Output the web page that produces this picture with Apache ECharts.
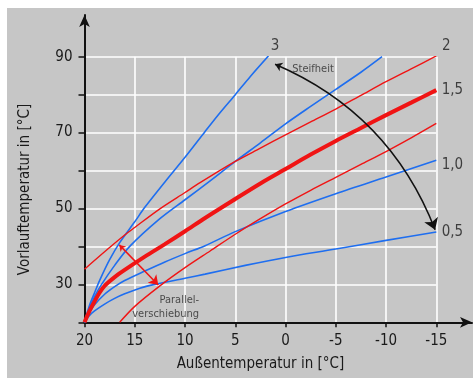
<!DOCTYPE html>
<html>
<head>
<meta charset="utf-8">
<script src="https://cdn.jsdelivr.net/npm/echarts@6/dist/echarts.min.js"></script>
<style>
  html, body { margin: 0; padding: 0; background: #fff; }
  #chart { position: absolute; left: 7px; top: 8px; width: 466px; height: 370px; }
</style>
</head>
<body>
<div id="chart"></div>
<script>
// Heizkurven: [Außentemperatur, Vorlauftemperatur]
const blue05 = [[20, 20], [19.5, 21.8], [19, 23], [18, 24.8], [17, 26.3], [16, 27.5], [14.5, 29], [13, 30], [10, 31.6], [8, 32.7], [4, 35], [0, 37.1], [-5, 39.3], [-10, 41.6], [-15, 43.8]]
const blue10 = [[20, 20], [19.5, 22.6], [19, 24.6], [18, 27.4], [17, 29.4], [16, 31], [14, 33.5], [12, 35.9], [10, 38.1], [8, 40.2], [5, 43.9], [0, 49.2], [-5, 53.9], [-10, 58.3], [-15, 62.7]]
const blue20 = [[20, 20], [19.5, 23.8], [19, 26.8], [18.3, 30], [17, 35], [15.5, 40], [12.5, 47.3], [10, 52.3], [7.5, 57.3], [5, 62.4], [2.5, 67.3], [0, 72.3], [-2.5, 76.9], [-5, 81.4], [-7.5, 85.9], [-9.6, 90]]
const blue30 = [[20, 20], [19.5, 24.5], [19, 27.8], [18.5, 31], [17.5, 36.5], [16.5, 41], [15, 46.5], [14, 50.3], [12, 57], [10, 63.5], [8, 70.3], [6.5, 75.3], [5, 80], [3.5, 84.8], [1.7, 90.2]]
const red15 = [[20, 20], [19.5, 23], [19, 25.5], [18.5, 27.8], [18, 29.6], [17, 31.9], [16, 33.8], [14, 37.3], [12, 40.6], [10, 44], [8, 47.5], [5, 52.5], [2.5, 56.6], [0, 60.4], [-2.5, 64.2], [-5, 67.8], [-7.5, 71.2], [-10, 74.6], [-12.5, 77.9], [-15, 81.2]]
const red15Up = [[20, 34], [18, 38.6], [16, 43], [15, 45], [12.5, 49.9], [10, 54.2], [8.5, 56.8], [5, 62.4], [2.5, 65.9], [0, 69.4], [-2.5, 72.8], [-5, 76.2], [-7.5, 79.8], [-10, 83.4], [-12.5, 86.8], [-15, 90.2]]
const red15Down = [[16.5, 20], [15, 24.2], [12.5, 29.6], [10, 34.4], [7.5, 38.8], [5, 43.2], [2.5, 47.3], [0, 51.2], [-2.5, 54.8], [-5, 58.2], [-7.5, 61.6], [-10, 65], [-12.5, 68.6], [-15, 72.4]]

// Beschriftung der Kurven (Steilheit)
const slopeNames = ['3', '2', '1,5', '1,0', '0,5']
const slopePos = [[1.05, 92.7], [-16, 92.7], [-16.6, 81.3], [-16.6, 61.5], [-16.6, 43.8]]

// Pfeile
const steilArrow = [[1.04, 88], [-14.88, 44.4]]
const shiftArrow = [[16.54, 40.4], [12.66, 29.85]]

const FONT = "'Liberation Sans Narrow', 'DejaVu Sans Condensed', 'Arial Narrow', sans-serif"
const BLUE = '#1e6ef0'
const RED = '#f01414'
const INK = '#1a1a1a'

var myChart = echarts.init(document.getElementById('chart'))

function curve(data, color, width) {
  return {
    type: 'line',
    xAxisIndex: 0,
    yAxisIndex: 0,
    data: data,
    smooth: 0.3,
    showSymbol: false,
    silent: true,
    lineStyle: { color: color, width: width },
  }
}

var option = {
  backgroundColor: '#c6c6c6',
  animation: false,
  textStyle: { fontFamily: FONT },
  grid: [
    { left: 77.5, right: 36.7, top: 48.7, bottom: 55.7 },
    // nur für die Achsenpfeile
    { left: 77.5, right: 1, top: 7, bottom: 55.7 },
  ],
  xAxis: [
    {
      type: 'value',
      gridIndex: 0,
      inverse: true,
      min: -15,
      max: 20,
      interval: 5,
      name: 'Außentemperatur in [°C]',
      nameLocation: 'middle',
      nameGap: 34,
      nameTextStyle: { color: INK, fontSize: 15, fontFamily: FONT },
      axisLine: { show: false, onZero: false },
      axisTick: { show: true, length: 5, lineStyle: { color: '#111', width: 1.5 } },
      axisLabel: { color: INK, fontSize: 15, margin: 11, fontFamily: FONT },
      splitLine: { show: true, lineStyle: { color: '#ffffff', width: 1.6 } },
    },
    {
      type: 'value',
      gridIndex: 1,
      inverse: true,
      min: -18.6,
      max: 20,
      axisLine: { show: true, onZero: false, symbol: ['none', 'arrow'], symbolSize: [8, 12], lineStyle: { color: '#111', width: 2 } },
      axisTick: { show: false },
      axisLabel: { show: false },
      splitLine: { show: false },
    },
  ],
  yAxis: [
    {
      type: 'value',
      gridIndex: 0,
      min: 20,
      max: 90,
      interval: 10,
      name: 'Vorlauftemperatur in [°C]',
      nameLocation: 'middle',
      nameGap: 52,
      nameTextStyle: { color: INK, fontSize: 15, fontFamily: FONT },
      axisLine: { show: false, onZero: false },
      axisTick: { show: true, length: 6, lineStyle: { color: '#111', width: 1.5 } },
      axisLabel: {
        color: INK,
        fontSize: 15,
        margin: 12,
        fontFamily: FONT,
        formatter: function (v) {
          return v > 20 && (v - 10) % 20 === 0 ? String(v) : ''
        },
      },
      splitLine: { show: true, lineStyle: { color: '#ffffff', width: 1.6 } },
    },
    {
      type: 'value',
      gridIndex: 1,
      min: 20,
      max: 100.6,
      axisLine: { show: true, onZero: false, symbol: ['none', 'arrow'], symbolSize: [8, 12], lineStyle: { color: '#111', width: 2 } },
      axisTick: { show: false },
      axisLabel: { show: false },
      splitLine: { show: false },
    },
  ],
  series: [
    curve(blue05, BLUE, 1.6),
    curve(blue10, BLUE, 1.6),
    curve(blue20, BLUE, 1.6),
    curve(blue30, BLUE, 1.6),
    curve(red15Up, RED, 1.4),
    curve(red15Down, RED, 1.4),
    curve(red15, RED, 4),
    // Steilheit-Pfeil
    {
      type: 'lines',
      coordinateSystem: 'cartesian2d',
      xAxisIndex: 0,
      yAxisIndex: 0,
      silent: true,
      symbol: ['arrow', 'arrow'],
      symbolSize: [7, 11],
      lineStyle: { color: '#111', width: 1.5, curveness: 0.21, opacity: 1 },
      data: [{ coords: steilArrow }],
      z: 5,
    },
    // Parallelverschiebung-Pfeil
    {
      type: 'lines',
      coordinateSystem: 'cartesian2d',
      xAxisIndex: 0,
      yAxisIndex: 0,
      silent: true,
      symbol: ['arrow', 'arrow'],
      symbolSize: [6, 9],
      lineStyle: { color: RED, width: 1.5, curveness: 0, opacity: 1 },
      data: [{ coords: shiftArrow }],
      z: 5,
    },
    // Texte
    {
      type: 'scatter',
      xAxisIndex: 0,
      yAxisIndex: 0,
      clip: false,
      silent: true,
      symbolSize: 0,
      z: 6,
      label: {
        show: true,
        position: 'inside',
        color: INK,
        fontSize: 15,
        fontFamily: FONT,
        formatter: function (p) { return p.name },
      },
      data: slopeNames.map(function (n, i) {
        return { name: n, value: slopePos[i] }
      }).concat([
        {
          name: 'Steifheit',
          value: [-2.74, 86.8],
          label: { fontSize: 11, color: '#2a2a2a' },
        },
        {
          name: 'Parallel-\nverschiebung',
          value: [8.6, 23.9],
          label: { position: [0, 0], align: 'right', verticalAlign: 'middle', fontSize: 11, lineHeight: 14, color: '#2a2a2a' },
        },
      ]),
    },
  ],
}

myChart.setOption(option)
</script>
</body>
</html>
